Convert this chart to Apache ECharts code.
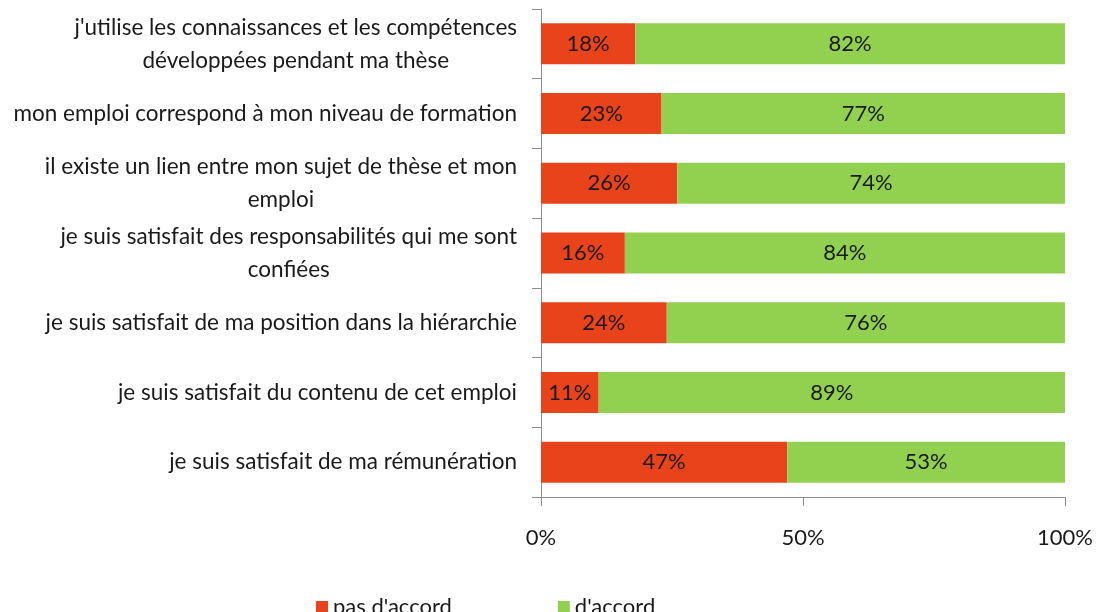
<!DOCTYPE html>
<html>
<head>
<meta charset="utf-8">
<script src="https://cdn.jsdelivr.net/npm/echarts@6/dist/echarts.min.js"></script>
<style>
html,body{margin:0;padding:0;background:#fff;}
#chart{width:1096px;height:612px;}
</style>
</head>
<body>
<div id="chart"></div>
<script>
const categories = [
  "j'utilise les connaissances et les compétences\ndéveloppées pendant ma thèse",
  "mon emploi correspond à mon niveau de formation",
  "il existe un lien entre mon sujet de thèse et mon\nemploi",
  "je suis satisfait des responsabilités qui me sont\nconfiées",
  "je suis satisfait de ma position dans la hiérarchie",
  "je suis satisfait du contenu de cet emploi",
  "je suis satisfait de ma rémunération"
];
const pasDaccord = [18, 23, 26, 16, 24, 11, 47];
const daccord = [82, 77, 74, 84, 76, 89, 53];
const seriesNames = ["pas d'accord", "d'accord"];
const xTicks = [0, 50, 100];

const FONT = 'Lato';
const chart = echarts.init(document.getElementById('chart'), null, {renderer: 'canvas'});
const labelStyle = {
  show: true,
  position: 'inside',
  color: '#1a1a1a',
  fontFamily: FONT,
  fontSize: 22,
  formatter: p => p.value + '%'
};
chart.setOption({
  animation: false,
  backgroundColor: '#ffffff',
  grid: {left: 541, right: 31, top: 9, bottom: 115, containLabel: false},
  legend: {
    data: seriesNames,
    left: 311,
    top: 590,
    itemWidth: 12,
    itemHeight: 12,
    itemGap: 106,
    icon: 'rect',
    textStyle: {fontFamily: FONT, fontSize: 22, color: '#1a1a1a', lineHeight: 24}
  },
  xAxis: {
    type: 'value',
    min: xTicks[0],
    max: xTicks[xTicks.length - 1],
    interval: 50,
    splitLine: {show: false},
    axisLine: {show: true, lineStyle: {color: '#8c8c8c', width: 1}},
    axisTick: {show: true, length: 9, lineStyle: {color: '#8c8c8c'}},
    axisLabel: {
      margin: 30,
      color: '#1a1a1a',
      fontFamily: FONT,
      fontSize: 22,
      formatter: v => v + '%'
    }
  },
  yAxis: {
    type: 'category',
    data: categories,
    inverse: true,
    axisLine: {show: true, lineStyle: {color: '#8c8c8c', width: 1}},
    axisTick: {show: true, length: 9, lineStyle: {color: '#8c8c8c'}},
    axisLabel: {
      margin: 24,
      color: '#1a1a1a',
      fontFamily: FONT,
      fontSize: 22.5,
      lineHeight: 33,
      formatter: v => v.split('\n').map(l => '{c|' + l + '}').join('\n'),
      rich: {c: {align: 'center', fontFamily: FONT, fontSize: 22.5, lineHeight: 33, color: '#1a1a1a'}}
    }
  },
  series: [
    {
      name: seriesNames[0],
      type: 'bar',
      stack: 'total',
      data: pasDaccord,
      barWidth: 41,
      itemStyle: {color: '#E8431A'},
      label: labelStyle
    },
    {
      name: seriesNames[1],
      type: 'bar',
      stack: 'total',
      data: daccord,
      barWidth: 41,
      itemStyle: {color: '#92D050'},
      label: labelStyle
    }
  ]
});
</script>
</body>
</html>
